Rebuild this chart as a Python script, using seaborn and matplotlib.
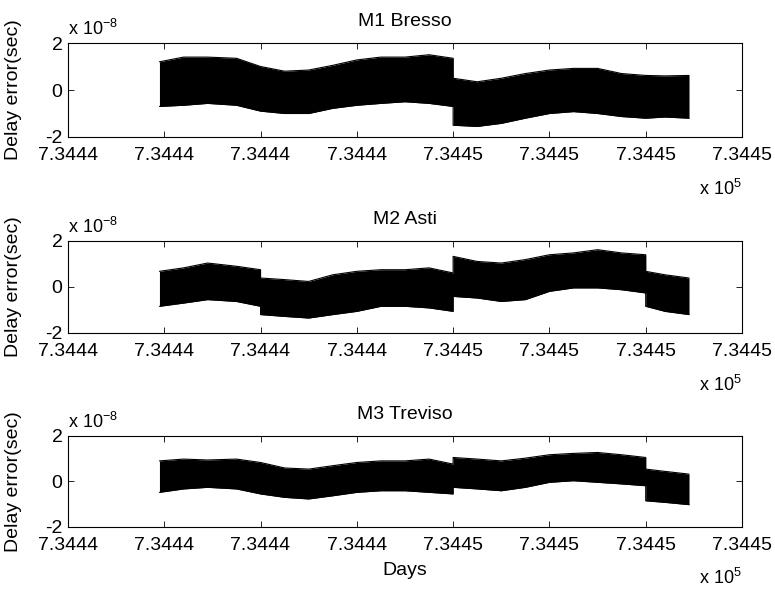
import numpy as np
import pandas as pd
import matplotlib
matplotlib.use('Agg')
import matplotlib.pyplot as plt
import seaborn as sns

sns.set_style('ticks')
plt.rcParams['font.family'] = ['Liberation Sans', 'DejaVu Sans']
plt.rcParams['mathtext.default'] = 'regular'
plt.rcParams['axes.unicode_minus'] = False
plt.rcParams['text.color'] = 'black'
plt.rcParams['axes.labelcolor'] = 'black'

# giorni (asse x), i salti sono punti doppi
days = [734441.95, 734442.2, 734442.45, 734442.75, 734443.0, 734443.0,
        734443.25, 734443.5, 734443.75, 734444.0, 734444.25, 734444.5,
        734444.75, 734445.0, 734445.0, 734445.25, 734445.5, 734445.75,
        734446.0, 734446.25, 734446.5, 734446.75, 734447.0, 734447.0,
        734447.2, 734447.45]

# inviluppo del ritardo, unita' 1e-8 s
m1_upper = [1.2, 1.4, 1.4, 1.35, 1.0, 1.0, 0.8, 0.85, 1.05, 1.28, 1.4, 1.4, 1.5,
            1.35, 0.5, 0.35, 0.5, 0.7, 0.85, 0.92, 0.92, 0.7, 0.62, 0.62, 0.6, 0.62]
m1_lower = [-0.7, -0.65, -0.57, -0.65, -0.9, -0.9, -1.0, -1.0, -0.78, -0.65, -0.57, -0.5, -0.57,
            -0.7, -1.5, -1.55, -1.42, -1.2, -1.0, -0.92, -1.0, -1.13, -1.2, -1.2, -1.15, -1.2]
m2_upper = [0.68, 0.83, 1.04, 0.9, 0.75, 0.39, 0.32, 0.24, 0.53, 0.68, 0.75, 0.75, 0.83,
            0.61, 1.33, 1.11, 1.04, 1.19, 1.4, 1.48, 1.62, 1.48, 1.4, 0.68, 0.53, 0.39]
m2_lower = [-0.84, -0.7, -0.55, -0.63, -0.84, -1.2, -1.28, -1.35, -1.2, -1.06, -0.84, -0.84, -0.91,
            -1.06, -0.41, -0.48, -0.63, -0.55, -0.19, -0.04, -0.04, -0.12, -0.26, -0.84, -1.06, -1.2]
m3_upper = [0.9, 0.98, 0.94, 0.98, 0.83, 0.83, 0.59, 0.54, 0.69, 0.83, 0.9, 0.9, 0.98,
            0.76, 1.05, 0.98, 0.9, 1.02, 1.17, 1.23, 1.27, 1.17, 1.05, 0.54, 0.44, 0.32]
m3_lower = [-0.48, -0.33, -0.26, -0.33, -0.55, -0.55, -0.7, -0.77, -0.63, -0.48, -0.41, -0.41, -0.48,
            -0.55, -0.26, -0.33, -0.41, -0.26, -0.04, 0.03, -0.04, -0.11, -0.19, -0.85, -0.92, -1.02]

titles = ['M1 Bresso', 'M2 Asti', 'M3 Treviso']
xtick_pos = [734441, 734442, 734443, 734444, 734445, 734446, 734447, 734448]
xtick_labels = ['7.3444', '7.3444', '7.3444', '7.3444', '7.3445', '7.3445', '7.3445', '7.3445']
ytick_pos = [-2, 0, 2]

series = [(m1_upper, m1_lower), (m2_upper, m2_lower), (m3_upper, m3_lower)]

fig = plt.figure(figsize=(7.75, 5.9), dpi=100)
positions = [[0.0877, 0.7678, 0.8697, 0.1593],
             [0.0877, 0.4356, 0.8697, 0.1560],
             [0.0877, 0.1068, 0.8697, 0.1545]]

for i, (up, lo) in enumerate(series):
    ax = fig.add_axes(positions[i])
    df = pd.DataFrame({'day': days, 'up': up, 'lo': lo})
    ax.fill_between(df['day'], df['lo'], df['up'], color='black', linewidth=0)
    sns.lineplot(data=df, x='day', y='up', ax=ax, color='black', linewidth=0.8,
                 estimator=None, sort=False)
    sns.lineplot(data=df, x='day', y='lo', ax=ax, color='black', linewidth=0.8,
                 estimator=None, sort=False)

    ax.set_xlim(734441, 734448)
    ax.set_ylim(-2, 2)
    ax.set_xticks(xtick_pos)
    ax.set_xticklabels(xtick_labels)
    ax.set_yticks(ytick_pos)
    ax.set_yticklabels([str(v) for v in ytick_pos])
    ax.tick_params(direction='in', length=4, width=0.6, labelsize=14,
                   top=True, right=True, colors='black')
    ax.tick_params(axis='x', pad=7)
    ax.tick_params(axis='y', pad=4)
    for s in ax.spines.values():
        s.set_visible(True)
        s.set_linewidth(0.8)
        s.set_color('black')
    ax.set_title(titles[i], fontsize=14, pad=12, color='black')
    ax.set_ylabel('Delay error(sec)', fontsize=14, color='black')
    ax.yaxis.set_label_coords(-0.068, 0.5)
    ax.set_xlabel('Days' if i == 2 else '', fontsize=14, labelpad=6, color='black')
    ax.text(0.0, 1.04, 'x 10$^{-8}$', transform=ax.transAxes, fontsize=13,
            ha='left', va='bottom', color='black')
    ax.text(1.0, -0.45, 'x 10$^{5}$', transform=ax.transAxes, fontsize=13,
            ha='right', va='top', color='black')

fig.savefig('out.png', dpi=100)
